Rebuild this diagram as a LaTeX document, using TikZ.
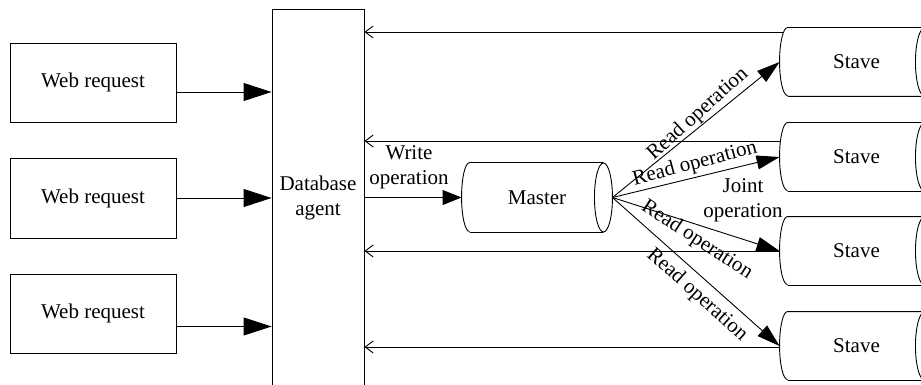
\documentclass[tikz,border=0pt]{standalone}
\usepackage{fontspec}
\setmainfont{Liberation Serif}
\usetikzlibrary{arrows.meta,calc}
\newcommand\cylout[2]{%
  \draw ([xshift=8pt]#1.north west) -- ([xshift=-9pt]#1.north east)
        ([xshift=8pt]#1.south west) -- ([xshift=-9pt]#1.south east)
        ([xshift=8pt]#1.north west) arc[start angle=90,end angle=270,x radius=8pt,y radius=#2]
        ([xshift=-9pt]#1.east) ellipse[x radius=9pt,y radius=#2];}
\begin{document}
\begin{tikzpicture}[x=1pt,y=-1pt, line width=0.9pt,
  every node/.style={font=\fontsize{21}{25}\selectfont, align=center},
  box/.style={draw, minimum width=166pt, minimum height=79pt, inner sep=0pt},
  cylbox/.style={minimum width=#1, minimum height=68pt, inner sep=0pt},
  big/.style={-{Triangle[length=28pt,width=18pt]}},
  mid/.style={-{Triangle[length=19pt,width=15pt]}},
  rd/.style={-{Triangle[length=23pt,width=14pt]}},
  ret/.style={-{Straight Barb[length=8pt,width=12pt]}},
  lbl/.style={inner sep=0pt}]
\useasboundingbox (0,0) rectangle (921,385);
\clip (0,0) rectangle (921,385);

% web requests
\node[box] (w1) at (93,82.5) {Web request};
\node[box, minimum height=80pt] (w2) at (93,198) {Web request};
\node[box] (w3) at (93,313.5) {Web request};

% database agent
\node[draw, minimum width=92pt, minimum height=377pt, inner sep=0pt] (db) at (318,197.5) {Database\\agent};

% master
\node[cylbox=150pt, minimum height=69pt] (m) at (537,197.5) {Master};
\cylout{m}{34.5pt}

% staves
\node[cylbox=153pt] (s1) at (856.5,62) {Stave};
\node[cylbox=153pt] (s2) at (856.5,157) {Stave};
\node[cylbox=153pt] (s3) at (856.5,251) {Stave};
\node[cylbox=153pt] (s4) at (856.5,346) {Stave};
\cylout{s1}{34pt}
\cylout{s2}{34pt}
\cylout{s3}{34pt}
\cylout{s4}{34pt}

% web request arrows
\draw[big] ([yshift=-9.5pt]w1.east) coordinate (a1) -- (a1 -| db.west);
\draw[big] (w2.east) -- (w2.east -| db.west);
\draw[big] ([yshift=-13pt]w3.east) coordinate (a3) -- (a3 -| db.west);

% write operation
\draw[mid] (db.east |- m.west) -- (m.west);
\node[lbl] (wl) at (409,167) {Write\\operation};

% read operations
\draw[rd] (m.east) -- (s1.west);
\draw[rd] (m.east) -- (s2.west);
\draw[rd] (m.east) -- (s3.west);
\draw[rd] (m.east) -- (s4.west);
\node[lbl, rotate=42] (l1) at (698,114) {Read operation};
\node[lbl, rotate=15] (l2) at (695,164) {Read operation};
\node[lbl, rotate=-33] (l3) at (697,240) {Read operation};
\node[lbl, rotate=-42] (l4) at (697,295) {Read operation};
\node[lbl] (jl) at (743,200) {Joint\\operation};

% returns
\draw[ret] ([shift={(4.2,-30)}]s1.west) coordinate (r1) -- (r1 -| db.east);
\draw[ret] ([shift={(0.8,-16)}]s2.west) coordinate (r2) -- (r2 -| db.east);
\draw[ret] (s3.west) -- (s3.west -| db.east);
\draw[ret] ([shift={(0,1)}]s4.west) coordinate (r4) -- (r4 -| db.east);
\end{tikzpicture}
\end{document}
